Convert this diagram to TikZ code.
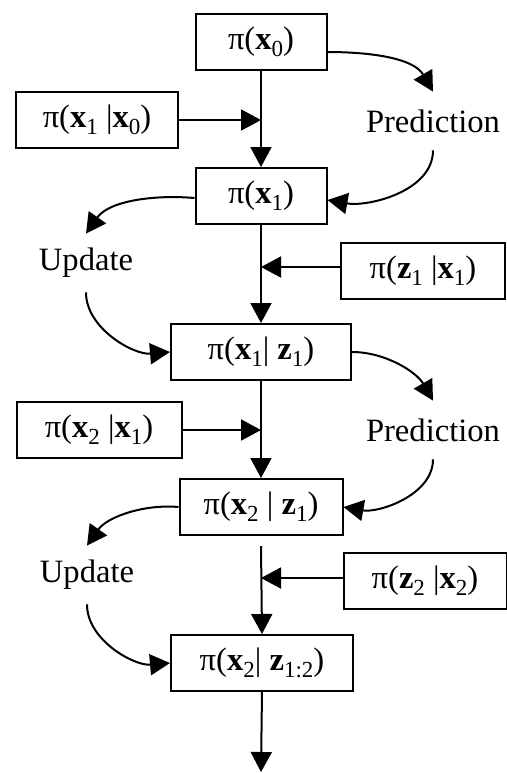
\documentclass[tikz,border=0pt]{standalone}
\usepackage{fontspec}
\setmainfont{Liberation Serif}
\usetikzlibrary{arrows.meta}
\newcommand\sbx[1]{\raisebox{-0.45ex}{\fontsize{11.5}{11.5}\selectfont #1}}
\begin{document}
\begin{tikzpicture}[x=0.5pt,y=0.5pt,
  every node/.style={font=\fontsize{16.3}{19}\selectfont},
  box/.style={draw,line width=1pt,minimum height=28pt,inner sep=0pt},
  lbl/.style={minimum height=29pt,inner sep=0pt},
  arr/.style={line width=1pt,-{Triangle[length=10pt,width=10.5pt]}}]
\useasboundingbox (0,0) rectangle (507,-773);
% main chain
\node[box,minimum width=65.5pt] (A) at (261,-42) {π(\textbf{x}\sbx{0})};
\node[box,minimum width=65.5pt] (B) at (261,-196) {π(\textbf{x}\sbx{1})};
\node[box,minimum width=90pt] (C) at (261,-352) {π(\textbf{x}\sbx{1}| \textbf{z}\sbx{1})};
\node[box,minimum width=81.5pt] (D) at (261,-507) {π(\textbf{x}\sbx{2} | \textbf{z}\sbx{1})};
\node[box,minimum width=91pt] (E) at (262,-663) {π(\textbf{x}\sbx{2}| \textbf{z}\sbx{1:2})};
% side boxes
\node[box,minimum width=81pt] (X10) at (97,-120) {π(\textbf{x}\sbx{1} |\textbf{x}\sbx{0})};
\node[box,minimum width=82pt] (Z1) at (423,-271) {π(\textbf{z}\sbx{1} |\textbf{x}\sbx{1})};
\node[box,minimum width=82.5pt] (X21) at (99,-430) {π(\textbf{x}\sbx{2} |\textbf{x}\sbx{1})};
\node[box,minimum width=81.5pt] (Z2) at (425,-581) {π(\textbf{z}\sbx{2} |\textbf{x}\sbx{2})};
% labels
\node[lbl] (P1) at (433,-121) {Prediction};
\node[lbl] (U1) at (86,-263) {Update};
\node[lbl] (P2) at (433,-430) {Prediction};
\node[lbl] (U2) at (87,-575) {Update};
\coordinate (end) at (261,-772);
% vertical flow
\draw[arr] (A.south) -- (B.north);
\draw[arr] (B.south) -- (C.north);
\draw[arr] (C.south) -- (D.north);
\draw[arr] ([yshift=-5pt]D.south) -- (E.north);
\draw[arr] (E.south) -- (end);
% horizontal inputs
\draw[arr] (X10.east) -- (X10.east -| A.south);
\draw[arr] ([yshift=2pt]Z1.west) -- ([yshift=2pt]Z1.west -| B.south);
\draw[arr] (X21.east) -- (X21.east -| C.south);
\draw[arr] ([yshift=1.5pt]Z2.west) -- ([yshift=1.5pt]Z2.west -| D.south);
% curved arrows
\draw[arr] ([yshift=-5pt]A.east) to[out=0,in=120,looseness=0.9] (P1.north);
\draw[arr] (P1.south) to[out=-90,in=-10,looseness=0.9] ([yshift=-2pt]B.east);
\draw[arr] ([yshift=-1pt]B.west) to[out=175,in=55,looseness=0.9] (U1.north);
\draw[arr] (U1.south) to[out=-90,in=185,looseness=0.9] (C.west);
\draw[arr] (C.east) to[out=0,in=120,looseness=0.9] (P2.north);
\draw[arr] (P2.south) to[out=-90,in=-10,looseness=0.9] (D.east);
\draw[arr] (D.west) to[out=175,in=55,looseness=0.9] (U2.north);
\draw[arr] (U2.south) to[out=-90,in=185,looseness=0.9] (E.west);
\end{tikzpicture}
\end{document}
